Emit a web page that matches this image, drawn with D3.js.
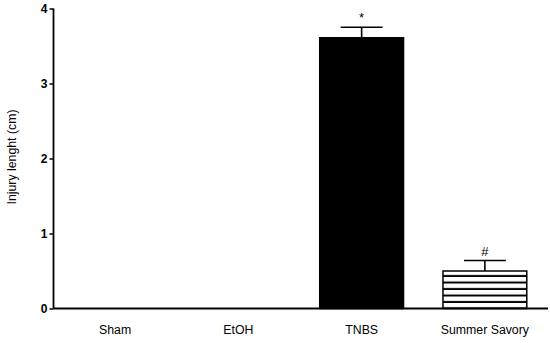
<!DOCTYPE html>
<html>
<head>
<meta charset="utf-8">
<script src="https://cdn.jsdelivr.net/npm/d3@7"></script>
<style>
  body { margin: 0; background: #fff; }
  svg { display: block; font-family: "Liberation Sans", Arial, sans-serif; }
</style>
</head>
<body>
<div id="chart"></div>
<script>
var groups = ["Sham", "EtOH", "TNBS", "Summer Savory"];
var means = [0, 0, 3.61, 0.50];
var sems = [0, 0, 0.14, 0.14];
var marks = ["", "", "*", "#"];
var yTicks = [0, 1, 2, 3, 4];

var width = 550, height = 343;
var svg = d3.select("#chart").append("svg").attr("width", width).attr("height", height);

var x = d3.scaleBand().domain(groups).range([53.5, 546.5]).paddingInner(0.32).paddingOuter(0.16);
var y = d3.scaleLinear().domain([0, 4]).range([308.5, 8.5]);

// stripes for the last bar
var defs = svg.append("defs");
var pat = defs.append("pattern").attr("id", "stripes").attr("patternUnits", "userSpaceOnUse")
    .attr("width", 10).attr("height", 6.5).attr("y", 270.5);
pat.append("rect").attr("width", 10).attr("height", 6.5).attr("fill", "#fff");
pat.append("rect").attr("y", 4.5).attr("width", 10).attr("height", 2.5).attr("fill", "#000");

var fills = ["#000", "#000", "#000", "url(#stripes)"];

var bars = svg.append("g");
groups.forEach(function(g, i) {
    if (means[i] <= 0) return;
    var cx = x(g) + x.bandwidth() / 2;
    // error bar
    bars.append("line").attr("x1", cx).attr("x2", cx)
        .attr("y1", y(means[i])).attr("y2", y(means[i] + sems[i]))
        .attr("stroke", "#000").attr("stroke-width", 1.6);
    bars.append("line").attr("x1", cx - x.bandwidth() / 4).attr("x2", cx + x.bandwidth() / 4)
        .attr("y1", y(means[i] + sems[i])).attr("y2", y(means[i] + sems[i]))
        .attr("stroke", "#000").attr("stroke-width", 1.6);
    bars.append("rect").attr("x", x(g)).attr("width", x.bandwidth())
        .attr("y", y(means[i])).attr("height", y(0) - y(means[i]))
        .attr("fill", fills[i]).attr("stroke", "#000").attr("stroke-width", 1.5);
    bars.append("text").attr("x", cx).attr("y", y(means[i] + sems[i]) - 5)
        .attr("text-anchor", "middle").attr("font-size", 13).text(marks[i]);
});

// axes
var yAxis = svg.append("g").attr("transform", "translate(53.5,0)")
    .call(d3.axisLeft(y).tickValues(yTicks).tickFormat(d3.format("d")).tickSize(4).tickPadding(2));
yAxis.select(".domain").attr("stroke-width", 1.8).attr("d", "M0," + y(4) + "V" + y(0));
yAxis.selectAll(".tick line").attr("stroke-width", 1.5);
yAxis.selectAll("text").attr("font-size", 12).attr("font-weight", "bold")
    .attr("font-family", "Liberation Sans, Arial, sans-serif").attr("fill", "#000");

var xAxis = svg.append("g").attr("transform", "translate(0," + y(0) + ")")
    .call(d3.axisBottom(x).tickSize(0).tickPadding(17));
xAxis.select(".domain").attr("stroke-width", 1.8).attr("d", "M53.5,0H548");
xAxis.selectAll("text").attr("font-size", 12.3)
    .attr("font-family", "Liberation Sans, Arial, sans-serif").attr("fill", "#000");

svg.append("text").attr("transform", "translate(16,157) rotate(-90)")
    .attr("text-anchor", "middle").attr("font-size", 12.3).text("Injury lenght (cm)");
</script>
</body>
</html>
